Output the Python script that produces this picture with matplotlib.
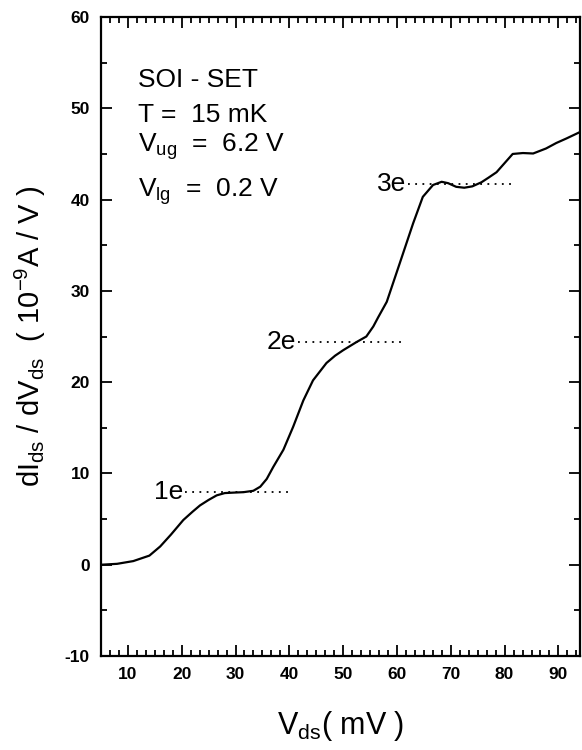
import matplotlib
matplotlib.use("Agg")
import matplotlib.pyplot as plt
from matplotlib.ticker import MultipleLocator, AutoMinorLocator

plt.rcParams['font.family'] = ['Liberation Sans', 'DejaVu Sans']
plt.rcParams['mathtext.fontset'] = 'custom'
plt.rcParams['mathtext.rm'] = 'Liberation Sans'
plt.rcParams['mathtext.it'] = 'Liberation Sans'
plt.rcParams['axes.unicode_minus'] = False

# dI/dV curve
vds = [5, 8, 11, 14, 16, 18, 20.3, 22, 23.4, 25, 26.5, 28, 29.6, 31.5, 33.3,
       34.6, 35.8, 37.0, 38.9, 40.7, 42.6, 44.4, 46.9, 48.5, 50.0, 52.5, 54.3,
       55.6, 56.5, 58.1, 60.5, 63.0, 64.8, 66.7, 68.3, 69.5, 71.0, 72.5, 74,
       75.7, 77, 78.5, 80, 81.5, 83.4, 85.3, 87.7, 89.6, 91.5, 94]
didv = [0, 0.1, 0.4, 1.0, 2.0, 3.3, 4.9, 5.8, 6.5, 7.1, 7.6, 7.85, 7.9, 7.95, 8.1,
        8.55, 9.4, 10.7, 12.6, 15.1, 18.0, 20.2, 22.1, 22.9, 23.5, 24.4, 25.0,
        26.1, 27.1, 28.8, 33.0, 37.4, 40.3, 41.6, 41.95, 41.8, 41.4, 41.3, 41.45,
        41.9, 42.4, 43.0, 44.0, 45.0, 45.1, 45.05, 45.6, 46.2, 46.7, 47.4]

# plateau markers
step_labels = ['1e', '2e', '3e']
step_levels = [8.0, 24.35, 41.7]
step_start = [20.6, 41.6, 62.0]
step_end = [40.4, 61.5, 81.9]

fig = plt.figure(figsize=(5.82, 7.5), dpi=100)
ax = fig.add_axes([0.1735, 0.1253, 0.823, 0.852])

ax.plot(vds, didv, color='black', lw=1.6)
for lab, lev, x0, x1 in zip(step_labels, step_levels, step_start, step_end):
    ax.plot([x0, x1], [lev, lev], color='black', lw=1.3, linestyle=(0, (1, 3)))
    ax.text(x0 - 0.3, lev, lab, ha='right', va='center', fontsize=19)

ax.set_xlim(5, 94)
ax.set_ylim(-10, 60)
ax.xaxis.set_major_locator(MultipleLocator(10))
ax.xaxis.set_minor_locator(AutoMinorLocator(6))
ax.yaxis.set_major_locator(MultipleLocator(10))
ax.yaxis.set_minor_locator(AutoMinorLocator(2))
ax.tick_params(which='both', direction='in', top=True, right=True, width=1.3)
ax.tick_params(which='major', length=8, labelsize=12.5, pad=8)
ax.tick_params(which='minor', length=4)
for lbl in ax.get_xticklabels() + ax.get_yticklabels():
    lbl.set_fontweight('bold')
for s in ax.spines.values():
    s.set_linewidth(1.6)

ax.text(0.077, 0.890, 'SOI - SET', transform=ax.transAxes, fontsize=19)
ax.text(0.077, 0.836, 'T =  15 mK', transform=ax.transAxes, fontsize=19)
ax.text(0.077, 0.789, r'V$_{\mathregular{ug}}$  =  6.2 V', transform=ax.transAxes, fontsize=19)
ax.text(0.077, 0.718, r'V$_{\mathregular{lg}}$  =  0.2 V', transform=ax.transAxes, fontsize=19)

ax.set_xlabel(r'V$_{\mathregular{ds}}$( mV )', fontsize=22, labelpad=19)
ax.set_ylabel(r'dI$_{\mathregular{ds}}$ / dV$_{\mathregular{ds}}$  ( 10$^{\mathregular{-9}}$A / V )',
              fontsize=21, labelpad=12)

fig.savefig('out.png', dpi=100)
